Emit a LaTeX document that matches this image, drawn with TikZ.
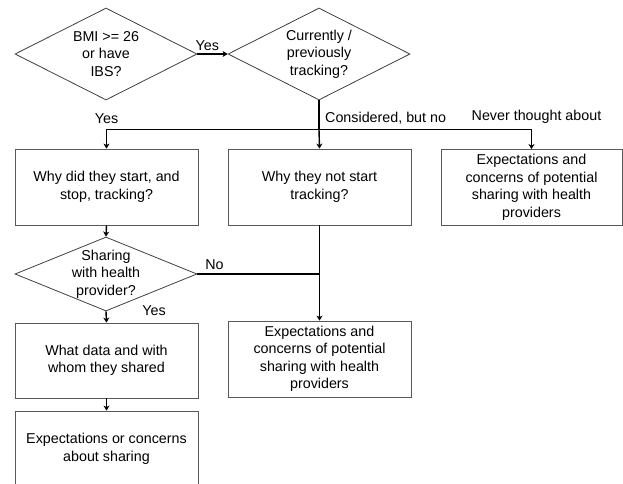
\documentclass[tikz,border=0pt]{standalone}
\usepackage{fontspec}
\setmainfont{Liberation Sans}
\usetikzlibrary{shapes.geometric,arrows.meta}

\tikzset{
question/.style = {
	diamond,
	draw 		= black!75,
	line width 	= 0.8pt,
	inner sep 	= 0pt,
	minimum width 	= 182pt,
	minimum height 	= 92pt},
topic/.style = {
	rectangle,
	draw 		= black!65,
	line width 	= 0.8pt,
	align 		= center,
	inner sep 	= 2pt,
	minimum width 	= 183pt,
	minimum height 	= 76pt},
flow/.style = {
	line width 	= 1.4pt,
	-{Stealth[length=5pt,width=6pt,inset=1.5pt]}},
joint/.style = {line width = 1.4pt},
answer/.style = {inner sep = 1pt}
}

\begin{document}
\begin{tikzpicture}[x=1pt, y=-1pt, font=\fontsize{14.3}{17.5}\selectfont]
%\draw[help lines] (0,0) grid (623,483);
\useasboundingbox (0,0) rectangle (623,483);

\node[question, label={[align=center]center:{BMI >= 26\\or have\\IBS?}}] (bmi) at (106,54) {};
\node[question, label={[align=center]center:{Currently /\\previously\\tracking?}}] (track) at (319,54) {};

\node[topic] (why) at (106.5,187) {Why did they start, and\\stop, tracking?};
\node[topic] (whynot) at (319.5,187) {Why they not start\\tracking?};
\node[topic, minimum width=181pt] (expect1) at (531.5,187.5) {Expectations and\\concerns of potential\\sharing with health\\providers};

\node[question, minimum height=74pt, label={[align=center]center:{Sharing\\with health\\provider?}}] (share) at (106,274) {};

\node[topic] (expect2) at (319.5,359) {Expectations and\\concerns of potential\\sharing with health\\providers};
\node[topic, minimum height=75pt] (what) at (106.5,360.5) {What data and with\\whom they shared};
\node[topic] (about) at (106.5,449) {Expectations or concerns\\about sharing};

\coordinate (split) at ([yshift=-29pt]track.south);
\coordinate (merge) at (whynot.south |- share.east);

\draw[flow] (bmi.east) -- node[answer, pos=0.33, above=2pt] (yes0) {Yes} (track.west);
\draw[joint] (track.south) -- (split);
\draw[flow] (split) -- (whynot.north);
\draw[flow] (split) -| node[answer, pos=0.5, above=4pt] (yes1) {Yes} (why.north);
\draw[flow] (split) -| node[answer, pos=0.5, above=4pt, xshift=5pt] (never) {Never thought about} (expect1.north);
\node[answer, anchor=south west] (considered) at ([xshift=5pt, yshift=4pt]split) {Considered, but no};

\draw[flow] (why.south) -- (share.north);
\draw[joint] (share.east) -- node[answer, pos=0.14, above=3pt] (no) {No} (merge);
\draw[flow] (whynot.south) -- (expect2.north);
\draw[flow] (share.south) -- node[answer, pos=0, xshift=48pt, yshift=1pt] (yes2) {Yes} (what.north);
\draw[flow] (what.south) -- (about.north);
\end{tikzpicture}
\end{document}
